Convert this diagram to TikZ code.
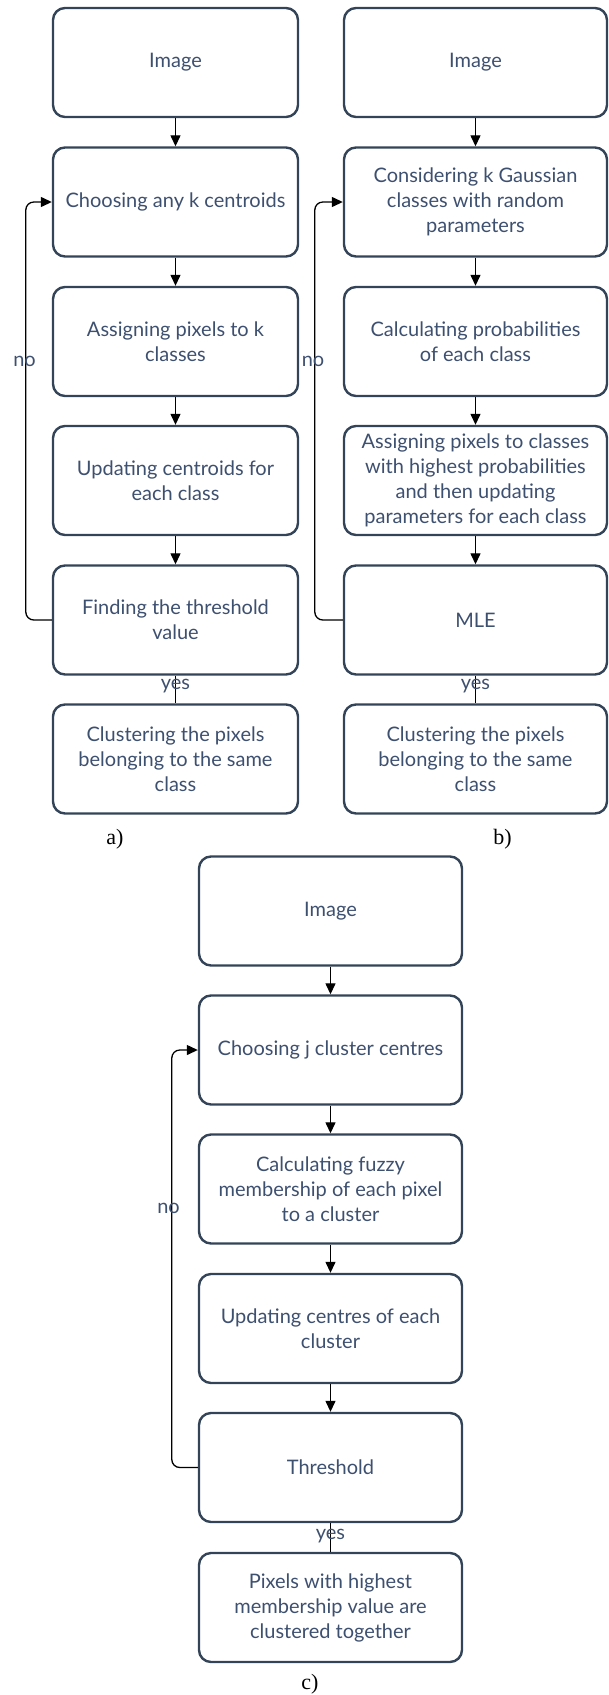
\documentclass[tikz,border=0pt]{standalone}
\usepackage{fontspec}
\setmainfont{Lato}
\newfontfamily\capfont{Liberation Serif}
\usetikzlibrary{arrows.meta}
\definecolor{boxline}{RGB}{52,68,88}
\definecolor{boxtext}{RGB}{62,80,112}

\begin{document}
\begin{tikzpicture}[x=1pt,y=-1pt,
  stepbox/.style={draw=boxline,line width=2.4pt,rounded corners=12pt,fill=white,
    text=boxtext,align=center,minimum height=109pt,inner sep=2pt,
    font=\fontsize{20}{25}\selectfont},
  flow/.style={-{Triangle[length=11pt,width=10pt]},line width=1.3pt},
  back/.style={-{Triangle[length=11pt,width=10pt]},line width=1.3pt,rounded corners=8pt},
  lbl/.style={text=boxtext,font=\fontsize{20}{25}\selectfont,inner sep=0pt},
  caption/.style={font=\capfont\fontsize{22}{26}\selectfont}]
  \useasboundingbox (0,0) rectangle (608,1695);
  \def\AX{175.5}
  \def\BX{475.5}
  \def\CX{330.5}
  \def\AW{245}
  \def\BW{263}

  % a) k-means
  \node[stepbox,minimum width=\AW] (aimg) at (\AX,62.5) {Image};
  \node[stepbox,minimum width=\AW] (achoose) at (\AX,202) {Choosing any k centroids};
  \node[stepbox,minimum width=\AW] (aassign) at (\AX,341.5) {Assigning pixels to k\\classes};
  \node[stepbox,minimum width=\AW] (aupdate) at (\AX,480.5) {Updating centroids for\\each class};
  \node[stepbox,minimum width=\AW] (athresh) at (\AX,620) {Finding the threshold\\value};
  \node[stepbox,minimum width=\AW] (acluster) at (\AX,759) {Clustering the pixels\\belonging to the same\\class};
  \draw[flow] (aimg) -- (achoose);
  \draw[flow] (achoose) -- (aassign);
  \draw[flow] (aassign) -- (aupdate);
  \draw[flow] (aupdate) -- (athresh);
  \draw[line width=1.3pt] (athresh) -- (acluster);
  \draw[back] (athresh.west) -- ++(-26,0) |- (achoose.west);
  \node[lbl] (ano) at (24.5,361) {no};
  \node[lbl] (ayes) at (\AX,686) {yes};
  \node[caption] (acap) at (115,839) {a)};

  % b) EM
  \node[stepbox,minimum width=\BW] (bimg) at (\BX,62.5) {Image};
  \node[stepbox,minimum width=\BW] (bconsider) at (\BX,202) {Considering k Gaussian\\classes with random\\parameters};
  \node[stepbox,minimum width=\BW] (bprob) at (\BX,341.5) {Calculating probabilities\\of each class};
  \node[stepbox,minimum width=\BW] (bassign) at (\BX,480.5) {Assigning pixels to classes\\with highest probabilities\\and then updating\\parameters for each class};
  \node[stepbox,minimum width=\BW] (bmle) at (\BX,620) {MLE};
  \node[stepbox,minimum width=\BW] (bcluster) at (\BX,759) {Clustering the pixels\\belonging to the same\\class};
  \draw[flow] (bimg) -- (bconsider);
  \draw[flow] (bconsider) -- (bprob);
  \draw[flow] (bprob) -- (bassign);
  \draw[flow] (bassign) -- (bmle);
  \draw[line width=1.3pt] (bmle) -- (bcluster);
  \draw[back] (bmle.west) -- ++(-28,0) |- (bconsider.west);
  \node[lbl] (bno) at (313,361) {no};
  \node[lbl] (byes) at (\BX,686) {yes};
  \node[caption] (bcap) at (502.5,839) {b)};

  % c) fuzzy c-means
  \node[stepbox,minimum width=\BW] (cimg) at (\CX,911) {Image};
  \node[stepbox,minimum width=\BW] (cchoose) at (\CX,1050) {Choosing j cluster centres};
  \node[stepbox,minimum width=\BW] (cfuzzy) at (\CX,1189) {Calculating fuzzy\\membership of each pixel\\to a cluster};
  \node[stepbox,minimum width=\BW] (cupdate) at (\CX,1328.5) {Updating centres of each\\cluster};
  \node[stepbox,minimum width=\BW] (cthresh) at (\CX,1467.5) {Threshold};
  \node[stepbox,minimum width=\BW] (cpixels) at (\CX,1607.5) {Pixels with highest\\membership value are\\clustered together};
  \draw[flow] (cimg) -- (cchoose);
  \draw[flow] (cchoose) -- (cfuzzy);
  \draw[flow] (cfuzzy) -- (cupdate);
  \draw[flow] (cupdate) -- (cthresh);
  \draw[line width=1.3pt] (cthresh) -- (cpixels);
  \draw[back] (cthresh.west) -- ++(-26,0) |- (cchoose.west);
  \node[lbl] (cno) at (168.5,1208) {no};
  \node[lbl] (cyes) at (\CX,1536) {yes};
  \node[caption] (ccap) at (310,1684) {c)};
\end{tikzpicture}
\end{document}
